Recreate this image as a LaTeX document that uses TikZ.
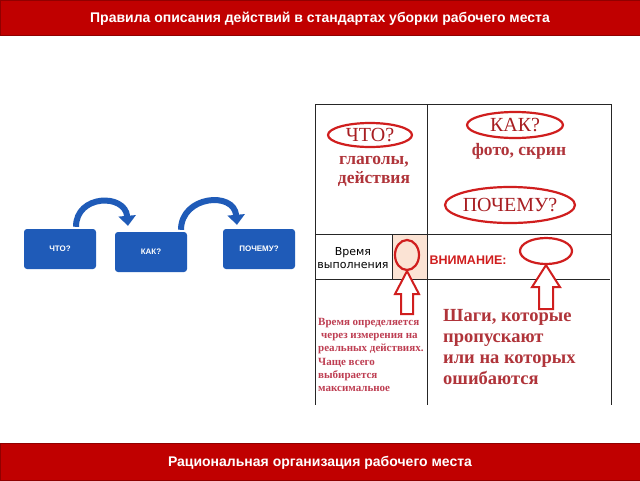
\documentclass[tikz,border=0pt]{standalone}
\usepackage{fontspec}
\setmainfont{Liberation Serif}
\setsansfont{Liberation Sans}
\newfontfamily\tablefont{DejaVu Sans}
\usetikzlibrary{arrows.meta,shapes.geometric}
\definecolor{bannerred}{HTML}{C00000}
\definecolor{boxblue}{HTML}{1F5BB8}
\definecolor{inkred}{HTML}{D01E1E}
\definecolor{textred}{HTML}{A81E22}
\definecolor{wordred}{HTML}{B0343A}
\definecolor{notered}{HTML}{BE3E52}
\definecolor{peach}{HTML}{FBE3D4}
\tikzset{
  banner/.style={fill=bannerred, draw=bannerred!75!black, line width=0.6pt},
  bannertext/.style={text=white, font=\sffamily\bfseries\fontsize{14}{16}\selectfont},
  qbox/.style={fill=boxblue, rounded corners=3pt, minimum width=72pt, minimum height=40pt,
    text=white, font=\sffamily\bfseries\fontsize{8}{9}\selectfont},
  bendarrow/.style={draw=boxblue, line width=6pt, -{Triangle[length=10pt,width=17pt]}},
  ring/.style={ellipse, draw=inkred, line width=2.2pt, inner sep=0pt},
  hollow/.style={draw=inkred, line width=2pt, fill=white, line join=miter},
  grid/.style={draw=black!85, line width=0.8pt},
  qword/.style={text=textred, font=\fontsize{20}{22}\selectfont},
  hint/.style={text=wordred, font=\bfseries\fontsize{17.5}{19}\selectfont, align=center},
}
\begin{document}
\begin{tikzpicture}[x=1pt,y=-1pt]
\useasboundingbox (0,0) rectangle (640,480);
% banners
\fill[white] (0,0) rectangle (640,480);
\draw[banner] (0,0) rectangle (640,35);
\node[bannertext] (title) at (320,19) {Правила описания действий в стандартах уборки рабочего места};
\draw[banner] (0,443) rectangle (640,480);
\node[bannertext] (footer) at (320,463) {Рациональная организация рабочего места};
% left scheme
\node[qbox] (what) at (60,249) {ЧТО?};
\node[qbox] (how) at (151,252) {КАК?};
\node[qbox] (why) at (259,249) {ПОЧЕМУ?};
\draw[bendarrow] ([xshift=16pt,yshift=2pt]what.north) to[out=90,in=95,looseness=1.6] ([xshift=-23pt,yshift=6pt]how.north);
\draw[bendarrow] ([xshift=30pt,yshift=2pt]how.north) to[out=90,in=95,looseness=1.55] ([xshift=-22pt,yshift=4pt]why.north);
% table
\fill[peach] (392,235) rectangle (427,279);
\draw[grid] (315,104) -- (612,104);
\draw[grid] (315,234) -- (612,234);
\draw[grid] (315,279) -- (610,279);
\draw[grid] (315,104) -- (315,405);
\draw[grid] (427,104) -- (427,405);
\draw[grid] (611,104) -- (611,405);
\draw[grid] (392,234) -- (392,279);
% first row
\node[ring, minimum width=84pt, minimum height=24pt] (whatring) at (370,135) {};
\node[qword] (whatword) at (whatring) {ЧТО?};
\node[hint, anchor=north] (verbs) at (374,153) {глаголы,\\действия};
\node[ring, minimum width=96pt, minimum height=26pt] (howring) at (515,125) {};
\node[qword] (howword) at (howring) {КАК?};
\node[hint, anchor=north] (photo) at (519,140) {фото, скрин};
\node[ring, minimum width=130pt, minimum height=36pt] (whyring) at (510,205) {};
\node[qword] (whyword) at (whyring) {ПОЧЕМУ?};
% second row
\node[font=\tablefont\fontsize{11}{13}\selectfont, align=center] (timecell) at (353,258) {Время\\выполнения};
\node[ring, minimum width=24pt, minimum height=30pt] (timering) at (407,255) {};
\node[anchor=west, text=inkred, font=\sffamily\bfseries\fontsize{12.5}{14}\selectfont] (attention) at (426,260) {ВНИМАНИЕ:};
\node[ring, minimum width=52pt, minimum height=26pt] (stepring) at (546,251) {};
% hollow arrows
\coordinate (tipA) at (timering.south);
\coordinate (tipB) at (stepring.south);
\draw[hollow] (tipA) -- ++(12,23) -- ++(-6,0) -- ++(0,20) -- ++(-12,0) -- ++(0,-20) -- ++(-6,0) -- cycle;
\draw[hollow] (tipB) -- ++(14,22) -- ++(-7,0) -- ++(0,22) -- ++(-14,0) -- ++(0,-22) -- ++(-7,0) -- cycle;
% third row
\node[anchor=north west, align=left, text=notered, inner sep=0pt,
  font=\bfseries\fontsize{11}{13.2}\selectfont] (timenote) at (318,318)
  {Время определяется\\\hspace{3pt}через измерения на\\реальных действиях.\\Чаще всего\\выбирается\\максимальное};
\node[anchor=north west, align=left, text=wordred, inner sep=0pt,
  font=\bfseries\fontsize{18.5}{21}\selectfont] (stepnote) at (443,309)
  {Шаги, которые\\пропускают\\или на которых\\ошибаются};
\end{tikzpicture}
\end{document}
